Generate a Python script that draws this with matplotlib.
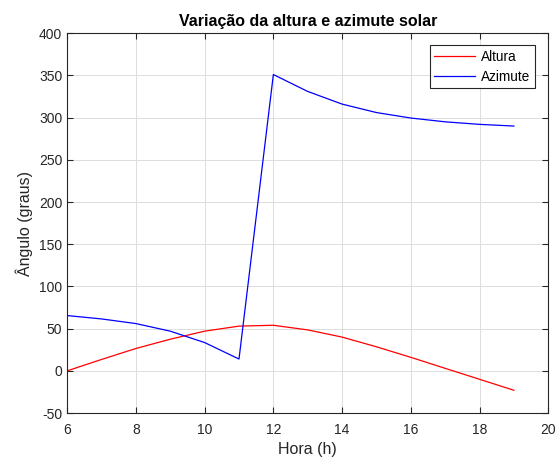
import matplotlib
matplotlib.use("Agg")
import matplotlib.pyplot as plt

hora = [6, 7, 8, 9, 10, 11, 12, 13, 14, 15, 16, 17, 18, 19]
altura = [0, 13.5, 26.5, 37.5, 47, 53, 54, 48.5, 40, 28.5, 16, 3, -10, -23]
azimute = [65.5, 61.5, 56, 47, 33.5, 14, 351, 331, 316, 306, 299.5, 295, 292, 290]

plt.rcParams['font.family'] = ['Liberation Sans', 'DejaVu Sans']
plt.rcParams['axes.unicode_minus'] = False

fig = plt.figure(figsize=(5.6, 4.61), dpi=100)
ax = fig.add_axes([0.12, 0.104, 0.859, 0.824])

ax.plot(hora, altura, color='#FF0000', linewidth=0.9, label='Altura')
ax.plot(hora, azimute, color='#0000FF', linewidth=0.9, label='Azimute')

ax.set_xlim(6, 20)
ax.set_ylim(-50, 400)
ax.set_xticks(range(6, 21, 2))
ax.set_yticks(range(-50, 401, 50))
ax.grid(True, color='#DDDDDD', linewidth=0.7)
ax.set_axisbelow(True)
ax.tick_params(direction='in', top=True, right=True, labelsize=10, colors='#262626', length=4, width=0.8)
ax.tick_params(axis='x', pad=7.5)
for s in ax.spines.values():
    s.set_color('#262626')
    s.set_linewidth(0.8)

ax.set_title('Variação da altura e azimute solar', fontsize=11.5, fontweight='bold', pad=5)
ax.set_xlabel('Hora (h)', fontsize=11.5, color='#262626', labelpad=3)
ax.set_ylabel('Ângulo (graus)', fontsize=11.5, color='#262626', labelpad=4)

leg = ax.legend(loc='upper right', bbox_to_anchor=(0.973, 0.968), borderaxespad=0,
                fontsize=9.8, fancybox=False, framealpha=1,
                edgecolor='#262626', handlelength=3.0,
                handletextpad=0.45, borderpad=0.35, labelspacing=0.4)
leg.get_frame().set_linewidth(0.8)

fig.savefig('out.png', dpi=100)
